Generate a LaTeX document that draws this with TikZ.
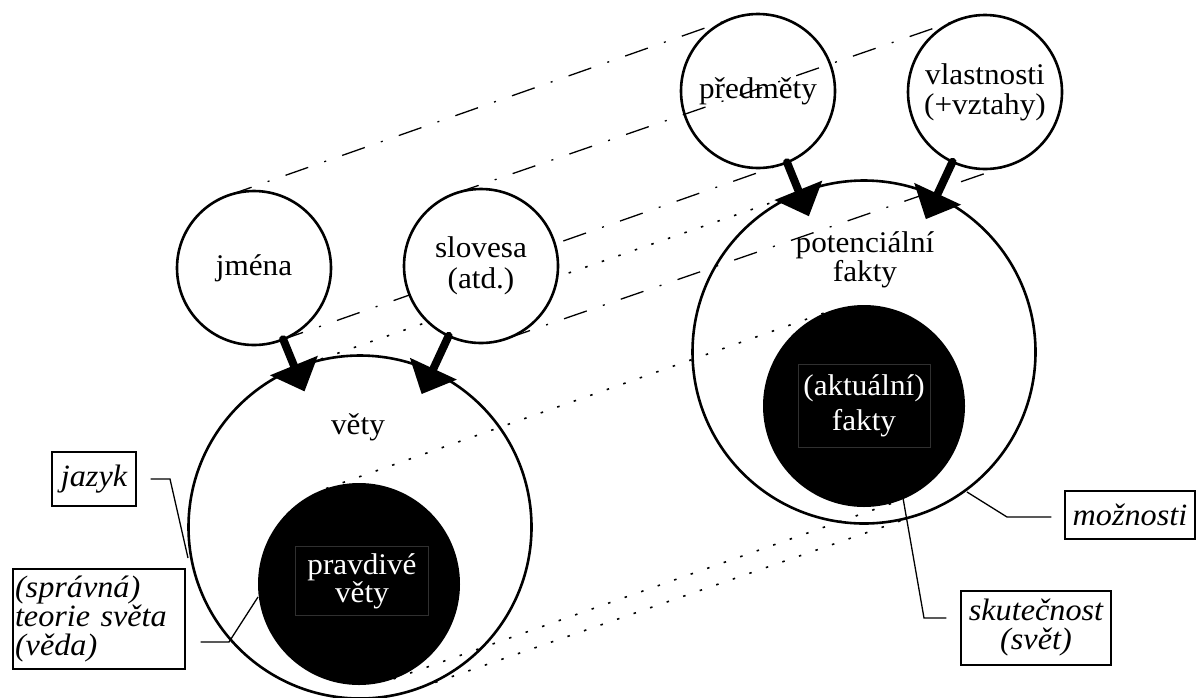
\documentclass[tikz,border=0pt]{standalone}
\usepackage{fontspec}
\setmainfont{Liberation Serif}[FakeStretch=1.04]
\usetikzlibrary{arrows.meta}
\definecolor{boxgray}{RGB}{48,48,48}
\newcommand\myfs[2]{\fontsize{#1}{#2}\selectfont}
\pgfdeclarelayer{back}
\pgfsetlayers{back,main}
\begin{document}
\begin{tikzpicture}[x=1pt,y=-1pt,
  circ/.style={circle, draw, line width=2.6pt, inner sep=0pt, outer sep=0pt},
  small/.style={circ, minimum size=154pt, font=\myfs{30}{31}, align=center},
  big/.style={circ, minimum size=343pt},
  core/.style={circle, fill=black, draw=none, inner sep=0pt, outer sep=0pt, minimum size=202pt},
  txt/.style={font=\myfs{30}{31}, align=center, inner sep=0pt},
  wtxt/.style={txt, text=white, draw=boxgray, line width=0.8pt},
  lbl/.style={draw, line width=1.3pt, font=\itshape\myfs{31}{29}, inner sep=0pt},
  leader/.style={line width=1.3pt},
  dashdot/.style={line width=1.3pt, dash pattern=on 24pt off 17pt on 2pt off 17pt},
  dots/.style={line width=1.6pt, dash pattern=on 2.5pt off 15pt},
  bigarrow/.style={line width=8pt, line cap=round, -{Triangle[length=28pt,width=50pt]}, shorten >=-25pt}
]
\useasboundingbox (0,0) rectangle (1196,697);

% big circles and cores
\node[big] (vety) at (360,527) {};
\node[big] (potencialni) at (864,352) {};
\node[core] (pravdive) at (359,584) {};
\node[core] (aktualni) at (864,406) {};

% small circles
\node[small] (jmena) at (254,268) {jména};
\node[small, fill=white] (slovesa) at (481,266) {slovesa\\(atd.)};
\node[small] (predmety) at (758,91) {předměty};
\node[small, font=\myfs{30}{30}] (vlastnosti) at (985,92) {vlastnosti\\(+vztahy)};

% texts in big circles
\node[txt] (vetyt) at (358,427) {věty};
\node[txt, font=\myfs{30}{25}] (pott) at (865,260) {potenciální\\fakty};
\node[wtxt, font=\myfs{30}{25}, minimum width=133pt, minimum height=69pt] (pravt) at (362,581) {pravdivé\\věty};
\node[wtxt, font=\myfs{30}{35}, minimum width=132pt, minimum height=83pt] (aktt) at (864,406) {(aktuální)\\fakty};

% projection lines (behind)
\begin{pgfonlayer}{back}
\draw[dashdot] (jmena.109.35) -- (predmety.109.35);
\draw[dashdot] (jmena.-70.65) -- (predmety.-70.65);
\draw[dashdot] (slovesa.109.05) -- (vlastnosti.109.05);
\draw[dashdot] (slovesa.-70.95) -- (vlastnosti.-70.95);
\draw[dots] (vety.109.15) -- (potencialni.109.15);
\draw[dots] (vety.-70.85) -- (potencialni.-70.85);
\draw[dots] (pravdive.109.42) -- (aktualni.109.42);
\draw[dots] (pravdive.-70.58) -- (aktualni.-70.58);
\end{pgfonlayer}

% thick arrows
\draw[bigarrow] (jmena) -- (vety);
\draw[bigarrow] (slovesa) -- (vety);
\draw[bigarrow] (predmety) -- (potencialni);
\draw[bigarrow] (vlastnosti) -- (potencialni);

% labels
\node[lbl, minimum width=84pt, minimum height=54pt] (jazyk) at (94,479) {jazyk};
\node[lbl, minimum width=172pt, minimum height=100pt, text width=168pt, align=left] (teorie) at (99,619) {(správná)\\teorie světa\\(věda)};
\node[lbl, minimum width=130pt, minimum height=48pt] (moznosti) at (1130,515) {možnosti};
\node[lbl, minimum width=150pt, minimum height=74pt, align=center] (skut) at (1036,628) {skutečnost\\(svět)};

% leader lines
\coordinate (jzB) at (170,479);
\coordinate (jzC) at (188,558);
\coordinate (tB) at (229,642);
\coordinate (tC) at (258,597);
\coordinate (mB) at (1007,517);
\coordinate (mC) at (967,492);
\coordinate (sB) at (924,618);
\coordinate (sC) at (903,498);
\draw[leader] ([xshift=14pt]jazyk.east) -- (jzB) -- (jzC);
\draw[leader] ([xshift=15pt,yshift=-23pt]teorie.east) -- (tB) -- (tC);
\draw[leader] ([xshift=-13pt,yshift=-2pt]moznosti.west) -- (mB) -- (mC);
\draw[leader] ([xshift=-14pt,yshift=10pt]skut.west) -- (sB) -- (sC);
\end{tikzpicture}
\end{document}
